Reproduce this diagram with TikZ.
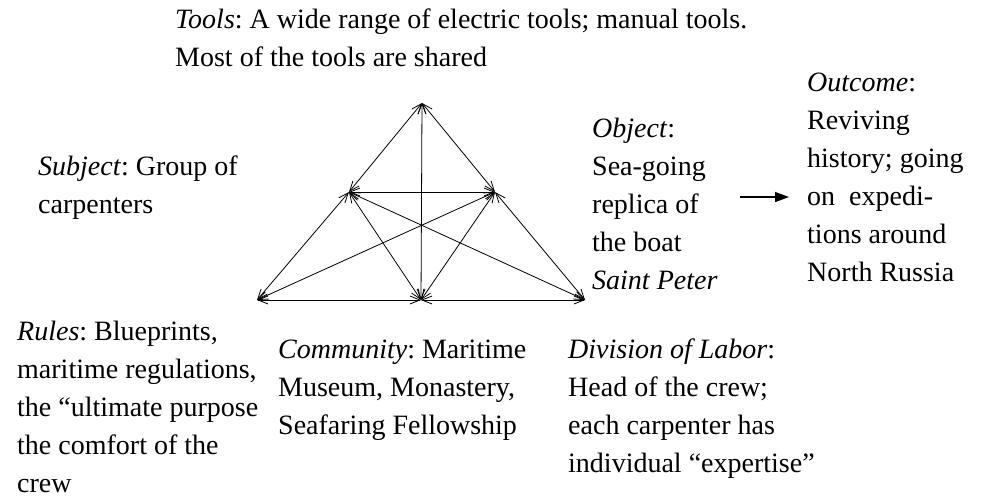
\documentclass[tikz,border=0pt]{standalone}
\usepackage{fontspec}
\setmainfont{Liberation Serif}
\usetikzlibrary{arrows.meta}
\frenchspacing

\begin{document}
\begin{tikzpicture}[x=1pt,y=-1pt,
    txt/.style={anchor=north west,inner sep=0pt,align=left,
      font=\fontsize{28}{38}\selectfont,
      execute at begin node={\rule{0pt}{22pt}}},
    >={Straight Barb[length=10pt,width=8pt]}]

    \useasboundingbox (0,0) rectangle (981,500);

    % corners of the activity triangle
    \coordinate (tool) at (422,103);
    \coordinate (subj) at (349,192);
    \coordinate (obj) at (495,192);
    \coordinate (rule) at (257,300);
    \coordinate (comm) at (421,300);
    \coordinate (div) at (585,300);

    \begin{scope}[every edge/.style={draw,line width=0.8pt}]
        \path [<->] (tool) edge (subj);
        \path [<->] (tool) edge (obj);
        \path [<->] (tool) edge (comm);
        \path [<->] (subj) edge (obj);
        \path [<->] (subj) edge (rule);
        \path [<->] (obj) edge (div);
        \path [<->] (subj) edge (comm);
        \path [<->] (obj) edge (comm);
        \path [<->] (subj) edge (div);
        \path [<->] (obj) edge (rule);
        \path [<->] (rule) edge (comm);
        \path [<->] (comm) edge (div);
    \end{scope}

    \begin{scope}[every node/.style={txt}]
        \node (tools) at (175,9) {\emph{Tools}: A wide range of electric tools; manual tools.\\Most of the tools are shared};
        \node (subject) at (38,156) {\emph{Subject}: Group of\\carpenters};
        \node (object) at (592,118) {\emph{Object}:\\Sea-going\\replica of\\the boat\\\emph{Saint Peter}};
        \node (outcome) at (807,73) {\emph{Outcome}:\\Reviving\\history; going\\on~~expedi-\\tions around\\North Russia};
        \node (rules) at (17,321) {\emph{Rules}: Blueprints,\\maritime regulations,\\the “ultimate purpose\\the comfort of the\\crew};
        \node (community) at (278,340) {\emph{Community}: Maritime\\Museum, Monastery,\\Seafaring Fellowship};
        \node (division) at (568,339) {\emph{Division of Labor}:\\Head of the crew;\\each carpenter has\\individual “expertise”};
    \end{scope}

    % object turns into outcome
    \coordinate (outin) at (789,197);
    \draw [-{Triangle[length=14pt,width=10pt]}, line width=1.5pt] (740,197) -- (outin);

\end{tikzpicture}
\end{document}
